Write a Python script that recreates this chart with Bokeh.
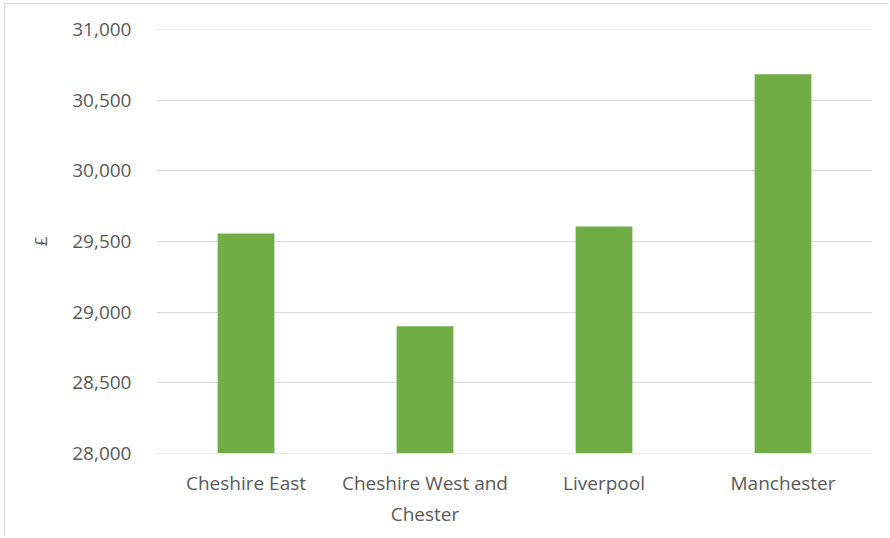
from bokeh.plotting import figure
from bokeh.models import FixedTicker, NumeralTickFormatter, ColumnDataSource
from bokeh.embed import file_html
from bokeh.resources import INLINE

categories = ["Cheshire East", "Cheshire West and Chester", "Liverpool", "Manchester"]
tick_labels = ["Cheshire East", "Cheshire West and\nChester", "Liverpool", "Manchester"]
values = [29557, 28900, 29606, 30685]
y_ticks = [28000, 28500, 29000, 29500, 30000, 30500, 31000]

pos = list(range(len(categories)))
src = ColumnDataSource(data=dict(x=pos, cat=categories, val=values))

p = figure(width=884, height=533, x_range=(-0.5, len(categories) - 0.5), y_range=(27997, 31003),
           output_backend="svg", toolbar_location=None,
           min_border_left=151, min_border_right=17, min_border_top=25, min_border_bottom=84)
p.styles = {"border-left": "1px solid #D9D9D9", "border-top": "1px solid #D9D9D9",
            "margin-left": "4px", "margin-top": "3px"}

p.vbar(x="x", top="val", bottom=28000, width=0.317, source=src,
       fill_color="#70AD47", line_color=None)

p.outline_line_color = None
p.xgrid.grid_line_color = None
p.ygrid.grid_line_color = "#D9D9D9"
p.ygrid.grid_line_width = 1
p.ygrid.level = "underlay"

p.xaxis.ticker = FixedTicker(ticks=pos)
p.xaxis.major_label_overrides = {i: t for i, t in zip(pos, tick_labels)}
p.yaxis.ticker = FixedTicker(ticks=y_ticks)
p.yaxis.formatter = NumeralTickFormatter(format="0,0")
for ax in (p.xaxis[0], p.yaxis[0]):
    ax.axis_line_color = None
    ax.major_tick_line_color = None
    ax.minor_tick_line_color = None
    ax.major_label_text_color = "#595959"
    ax.major_label_text_font = "Open Sans"
    ax.major_label_text_font_size = "19px"

p.yaxis.major_label_standoff = 19
p.yaxis.axis_label = "£"
p.yaxis.axis_label_text_font = "Open Sans"
p.yaxis.axis_label_text_font_style = "normal"
p.yaxis.axis_label_text_font_size = "17px"
p.yaxis.axis_label_text_color = "#595959"
p.yaxis.axis_label_standoff = 17

p.xaxis.major_label_standoff = 10

open("out.html", "w").write(file_html(p, INLINE))
